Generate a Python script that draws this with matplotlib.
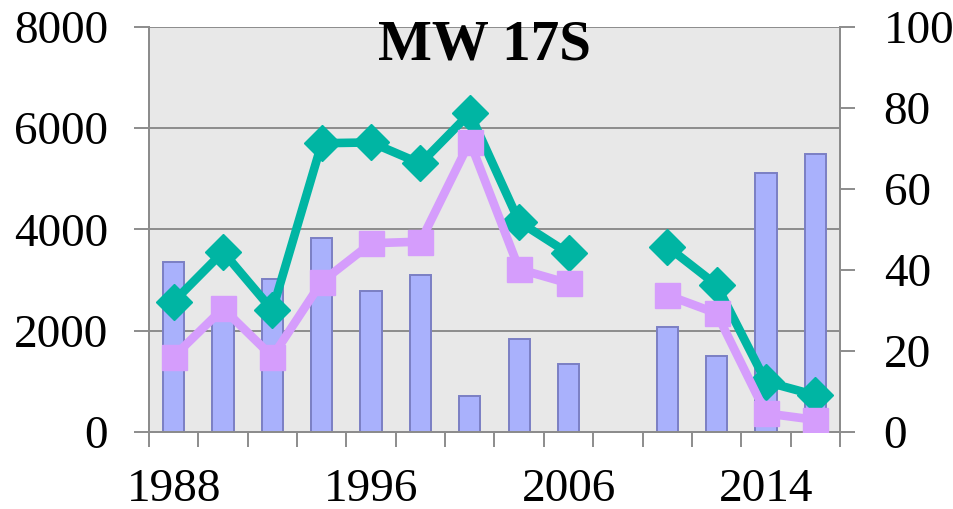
import numpy as np
import matplotlib
matplotlib.use("Agg")
import matplotlib.pyplot as plt

plt.rcParams["font.family"] = ["Liberation Serif", "DejaVu Serif"]

years = ["1988", "1990", "1992", "1994", "1996", "1998", "2000",
         "2003", "2006", "2008", "2010", "2012", "2014", "2016"]
bars = [3350, 2350, 3030, 3830, 2790, 3110, 710,
        1830, 1350, np.nan, 2070, 1510, 5110, 5500]
green = [32.2, 44.5, 30.1, 71.3, 71.5, 66.3, 78.7,
         51.9, 44.1, np.nan, 45.8, 36.3, 12.4, 9.1]
purple = [18.6, 30.5, 18.6, 37.1, 46.6, 47.0, 71.7,
          40.2, 36.7, np.nan, 33.8, 29.3, 4.6, 3.0]
label_every = 4

grid_c = "#8c8c8c"
x = np.arange(len(years))

fig = plt.figure(figsize=(9.54, 5.09), dpi=100)
ax = fig.add_axes([149 / 954, 77 / 509, 691 / 954, 405 / 509])
ax.set_facecolor("#e8e8e8")

ax.bar(x, bars, width=0.43, color="#a9b1fc", edgecolor="#7b7fc4",
       linewidth=1.4, zorder=2)
ax.set_ylim(0, 8000)
ax.set_xlim(-0.5, len(years) - 0.5)
ax.set_yticks([0, 2000, 4000, 6000, 8000])
ax.yaxis.grid(True, color=grid_c, linewidth=1.4, zorder=0)
ax.set_axisbelow(True)

ax.set_xticks(x[::label_every])
ax.set_xticklabels(years[::label_every])
ax.set_xticks(np.arange(-0.5, len(years), 1), minor=True)

ax2 = ax.twinx()
ax2.plot(x, green, color="#00b5a3", linewidth=6.2, marker="D",
         markersize=18, zorder=3)
ax2.plot(x, purple, color="#d59dfc", linewidth=6.2, marker="s",
         markersize=18, zorder=4)
ax2.set_ylim(0, 100)
ax2.set_yticks([0, 20, 40, 60, 80, 100])

for a in (ax, ax2):
    for s in a.spines.values():
        s.set_color(grid_c)
        s.set_linewidth(1.4)
ax.spines["top"].set_visible(False)
ax2.spines["top"].set_visible(False)

ax.tick_params(axis="y", length=10.5, width=1.4, color=grid_c,
               labelsize=34, pad=19)
ax.tick_params(axis="x", which="major", length=0, labelsize=34, pad=26)
ax.tick_params(axis="x", which="minor", length=10.5, width=1.4, color=grid_c)
ax2.tick_params(axis="y", length=10.5, width=1.4, color=grid_c,
                labelsize=34, pad=21)

ax.text(0.485, 0.955, "MW 17S", transform=ax.transAxes, ha="center",
        va="center", fontsize=41, fontweight="bold", zorder=10)

fig.savefig("out.png", dpi=100)
